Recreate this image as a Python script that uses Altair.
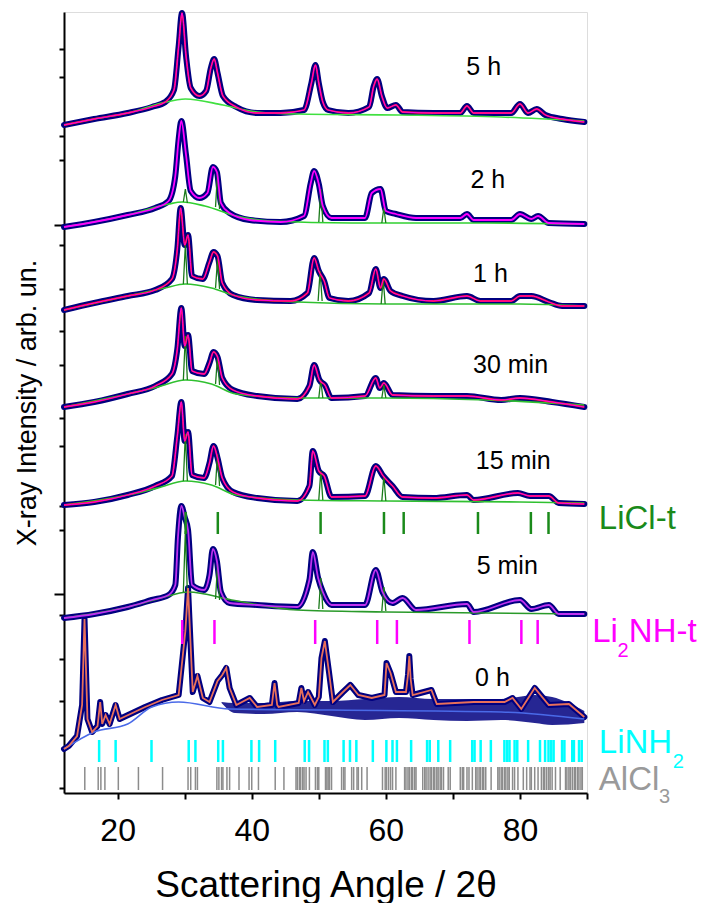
import math
import altair as alt
import pandas as pd

# ---------------- data (2theta in degrees, intensity in arb. un., log-stacked) -------------
patterns = ["5 h", "2 h", "1 h", "30 min", "15 min", "5 min", "0 h"]

x_5h = [12.0,16.5,21.5,25.1,27.1,28.4,29.1,29.6,30.2,30.9,32.2,33.2,33.9,34.4,34.9,35.7,37.7,40.8,44.3,47.8,48.9,49.5,50.0,50.6,51.4,54.4,57.5,58.2,58.7,59.4,60.2,61.5,62.5,67.1,71.1,72.1,73.1,78.7,80.0,81.2,82.5,83.8,86.3,89.6]
y_5h = [654,660,666,672,677,689,733,766,723,691,683,688,711,720,706,683,672,666,666,669,696,714,696,677,669,666,672,693,700,683,671,674,667,666,666,673,666,666,675,666,670,664,660,657]

x_2h = [12.0,16.5,21.5,25.6,27.6,28.6,29.1,29.5,30.2,30.9,32.2,33.4,34.2,34.8,35.4,36.7,39.7,44.3,47.8,48.8,49.3,50.0,50.6,51.9,56.9,57.9,59.2,60.0,61.5,64.5,71.1,72.1,73.1,78.7,80.0,81.7,82.7,84.3,89.6]
y_2h = [552,557,564,571,578,603,640,658,624,588,581,586,612,607,576,566,559,557,563,596,608,595,573,561,561,586,590,568,565,561,561,565,559,559,565,560,563,556,555]

x_1h = [12.0,16.5,21.5,25.6,28.1,28.9,29.4,30.0,30.5,31.1,32.7,33.7,34.3,34.9,35.6,37.2,40.8,45.8,48.3,49.3,50.0,50.8,51.6,54.4,57.5,58.5,59.2,59.7,60.7,62.5,67.1,72.1,74.1,78.7,80.0,81.7,84.3,86.3,89.6]
y_1h = [469,476,483,489,500,530,571,534,544,503,500,517,527,523,496,484,479,478,486,521,508,498,481,478,486,510,491,500,488,483,478,483,478,478,483,483,477,473,473]

x_30m = [12.0,16.5,21.5,25.6,28.1,28.9,29.5,30.0,30.5,31.1,32.9,33.7,34.3,34.9,35.6,37.2,40.8,46.8,48.6,49.3,50.1,50.9,51.9,56.9,58.5,59.1,59.7,61.0,67.1,72.1,77.2,80.0,84.8,89.6]
y_30m = [372,377,385,393,405,430,471,433,444,408,405,416,427,422,401,389,383,380,393,414,399,394,381,383,401,391,396,384,383,383,379,381,377,372]

x_15m = [12.0,16.5,21.5,25.6,28.1,28.9,29.5,30.0,30.5,31.1,32.9,33.7,34.3,34.9,35.6,37.2,40.8,46.8,48.6,49.1,50.0,50.8,51.9,56.9,58.5,59.6,61.0,62.5,67.1,72.1,73.1,79.7,81.5,84.3,85.8,89.6]
y_15m = [274,277,284,293,303,343,377,338,347,304,301,316,333,321,301,287,281,278,293,328,308,303,282,283,313,303,293,282,281,284,279,286,283,283,276,275]

x_5m = [12.0,16.5,21.5,25.1,27.6,28.6,29.0,29.5,30.0,30.5,31.1,32.9,33.7,34.2,34.8,35.4,36.7,40.8,46.8,48.6,49.1,49.9,50.6,51.9,56.9,58.5,59.5,61.0,62.5,64.5,72.1,73.1,80.0,81.7,84.3,85.8,89.6]
y_5m = [161,165,172,179,184,194,242,273,262,249,194,189,204,230,218,187,176,174,172,199,227,201,187,174,174,209,187,176,181,169,175,167,179,170,174,165,165]

x_0h = [12.0,12.7,13.95,14.7,15.06,15.5,16.2,17.0,17.4,17.7,18.2,18.8,19.7,20.3,24.1,26.6,29.1,30.1,30.5,31.2,31.9,32.7,33.7,34.9,35.6,36.2,36.7,37.7,39.7,40.8,43.0,43.4,43.8,44.0,47.0,47.4,47.8,48.4,49.4,50.0,50.4,50.9,51.5,52.1,53.6,54.7,55.9,57.9,59.8,60.1,60.7,61.5,63.0,63.3,63.5,63.7,64.0,66.8,67.6,73.1,77.7,78.9,80.2,82.2,84.3,87.3,89.6]
y_0h = [30,33,43,74,160,60,47,53,77,55,64,55,74,60,72,79,84,148,191,87,103,81,77,98,104,111,91,74,81,72,74,96,74,72,76,91,78,87,74,82,121,138,108,77,87,94,84,81,84,116,106,87,87,104,123,100,84,89,75,77,77,81,70,91,74,75,62]

# lower edge of the scattered 0 h points (noise band)
band_x = [35.5,37.5,41.8,46.8,51.9,56.9,62.0,67.1,72.1,77.2,82.2,84.8,89.6]
band_lo = [76,66,65,67,63,59,61,59,58,59,56,54,56]
band_hi = [77,76,76,78,78,80,82,80,80,80,84,82,68]

# backgrounds
bx_5h = [12,16.5,21.5,26.6,30.1,35.7,40.8,46.8,62.0,77.2,89.6]
by_5h = [654,660,666,676,680,674,667,665,664,662,658]
bx_2h = [12,21.5,27.6,29.6,33.0,37.7,42.8,55,75,89.6]
by_2h = [552,564,575,577,573,563,558,556,556,555]
bx_1h = [12,21.5,27.0,30.1,34.0,37.7,46.8,60,80,89.6]
by_1h = [469,483,491,495,491,483,477,475,475,473]
bx_30m = [12,21.5,26.0,30.1,34.0,37.7,46.8,60,75,89.6]
by_30m = [372,385,392,399,395,385,381,381,379,374]
bx_15m = [12,21.5,26.0,30.1,34.0,37.7,46.8,60,80,89.6]
by_15m = [274,284,291,298,294,284,279,278,277,276]
bx_5m = [12,21.5,26.0,30.6,37.0,46.8,60,89.6]
by_5m = [161,172,180,187,179,169,167,165]
bx_0h = [12,16.5,21.5,25.1,29.1,36.7,51.9,77.2,89.6]
by_0h = [30,47,55,72,77,70,69,67,60]

# LiCl-t component peaks (explicit profile points, one triplet per reflection)
cx_2h = [29.8,30.1,30.4, 34.6,34.9,35.2, 50.0,50.3,50.6, 59.4,59.7,60.0]
cy_2h = [577,590,576, 572,607,570, 557,590,557, 556,571,556]
cx_1h = [29.8,30.1,30.4, 34.6,34.9,35.2, 49.9,50.2,50.5, 59.3,59.6,59.9]
cy_1h = [495,534,495, 491,520,490, 478,508,478, 475,500,475]
cx_30m = [29.8,30.1,30.4, 34.6,34.9,35.2, 50.0,50.3,50.6, 59.4,59.7,60.0]
cy_30m = [399,443,399, 395,423,394, 381,399,381, 381,394,381]
cx_15m = [29.8,30.1,30.4, 34.6,34.9,35.2, 50.0,50.3,50.6, 59.4,59.7,60.0]
cy_15m = [298,345,298, 294,325,293, 279,308,279, 278,303,278]
cx_5m = [29.8,30.1,30.4, 34.6,34.9,35.2, 50.0,50.3,50.6, 59.4,59.7,60.0]
cy_5m = [187,248,186, 180,215,179, 170,201,170, 168,192,168]

# reflection positions (2theta)
licl_t = [30.14,34.94,50.27,59.72,62.66,73.74,81.63,84.26]
li2nh_t = [29.63,34.44,49.46,58.71,61.65,72.47,80.21,82.64]
linh2 = [17.24,19.7,25.05,30.6,31.6,35.0,35.7,39.95,41.1,43.5,47.9,48.55,50.85,51.35,53.7,54.65,55.6,58.06,60.08,60.99,61.65,63.77,66.15,66.55,67.82,69.59,72.88,73.23,74.14,75.66,77.68,78.09,78.44,79.2,79.6,81.22,82.99,83.75,84.26,84.66,85.02,86.28,86.63,87.8,88.05,88.81,89.21]
alcl3 = [15.1,17.1,17.5,18.1,20.1,23.1,26.7,30.5,30.9,31.6,31.9,34.8,35.1,35.5,35.7,36.3,36.7,38.1,39.6,40.0,41.0,43.5,44.8,46.6,46.8,47.1,47.3,47.6,47.8,48.1,48.6,49.5,49.8,50.0,51.0,51.2,51.4,51.6,51.9,53.4,53.7,53.9,54.9,55.2,55.7,55.9,56.4,57.2,59.5,59.9,60.1,60.4,60.7,61.0,61.5,62.8,63.0,63.3,63.5,63.8,64.0,64.3,64.5,65.5,65.8,66.0,66.3,66.6,66.8,67.1,67.3,67.6,67.8,68.1,68.3,68.6,69.3,69.6,71.1,71.4,71.6,72.1,72.4,72.9,73.4,73.6,73.9,74.1,74.4,74.6,74.9,75.7,76.7,76.9,77.2,77.4,77.7,77.9,78.2,78.4,78.9,79.2,79.7,80.5,81.0,81.5,81.7,82.2,82.7,83.2,83.5,83.7,84.0,84.3,84.5,84.8,85.3,86.0,86.8,87.0,87.3,87.5,87.8,88.1,88.3,88.6,88.8,89.1,89.3]

# time labels (position in 2theta / intensity units)
time_lab_x = [74.6, 75.2, 75.6, 78.6, 79.0, 78.1, 75.9]
time_lab_y = [712, 599, 505, 414, 318, 213, 101]

# ---------------- build tables ----------------
obs_x = [x_5h, x_2h, x_1h, x_30m, x_15m, x_5m, x_0h]
obs_y = [y_5h, y_2h, y_1h, y_30m, y_15m, y_5m, y_0h]
bg_x = [bx_5h, bx_2h, bx_1h, bx_30m, bx_15m, bx_5m, bx_0h]
bg_y = [by_5h, by_2h, by_1h, by_30m, by_15m, by_5m, by_0h]

calc_col = {"5 h": "#ff1030", "2 h": "#ff00ff", "1 h": "#ff1010", "30 min": "#ff1030",
            "15 min": "#ff1030", "5 min": "#c030f0", "0 h": "#e8705a"}
bg_col = {"5 h": "#40e040", "2 h": "#30d030", "1 h": "#30c030", "30 min": "#30c030",
          "15 min": "#30c030", "5 min": "#2a9a2a", "0 h": "#4a6ae8"}
mag_over = {"5 h", "1 h", "30 min", "15 min"}
interp = {p: ("linear" if p == "0 h" else "monotone") for p in patterns}

rows = []
for p, xs, ys in zip(patterns, obs_x, obs_y):
    assert len(xs) == len(ys), p
    for i, (a, b) in enumerate(zip(xs, ys)):
        rows.append({"pattern": p, "x": a, "y": b, "i": i})
obs = pd.DataFrame(rows)

brows = []
for p, xs, ys in zip(patterns, bg_x, bg_y):
    assert len(xs) == len(ys), p
    for i, (a, b) in enumerate(zip(xs, ys)):
        brows.append({"pattern": p, "x": a, "y": b, "i": i, "col": bg_col[p]})
bg = pd.DataFrame(brows)

crows = []
for p, xs, ys in zip(["2 h", "1 h", "30 min", "15 min", "5 min"],
                     [cx_2h, cx_1h, cx_30m, cx_15m, cx_5m],
                     [cy_2h, cy_1h, cy_30m, cy_15m, cy_5m]):
    assert len(xs) == len(ys), p
    for i, (a, b) in enumerate(zip(xs, ys)):
        crows.append({"pk": f"{p}-{i // 3}", "x": a, "y": b, "i": i})
comp = pd.DataFrame(crows)

band = pd.DataFrame({"x": band_x, "lo": band_lo, "hi": band_hi})
labels = pd.DataFrame({"x": time_lab_x, "y": time_lab_y, "t": patterns})

# log-decade tick marks of the stacked intensity axis
DEC = 92.4
YMIN, YMAX = -14, 767
yticks = []
for k in range(-1, 9):
    for m in range(1, 10):
        v = DEC * (k + math.log10(m))
        if YMIN <= v <= YMAX:
            yticks.append(round(v, 2))

FONT = "Liberation Sans"
NAVY = "#000080"

xenc = alt.X("x:Q", scale=alt.Scale(domain=[12, 90], nice=False, zero=False),
             axis=alt.Axis(title="Scattering Angle / 2θ", values=[20, 30, 40, 50, 60, 70, 80, 90],
                           labelExpr="(datum.value % 20 == 0 && datum.value < 90) ? datum.label : ''",
                           grid=False, tickSize=6, tickWidth=2, tickColor="black",
                           domainColor="black", domainWidth=2, labelFontSize=32, labelFont=FONT,
                           labelColor="black", labelPadding=16, titleFontSize=37, titleFont=FONT,
                           titleFontWeight="normal", titleColor="black", titlePadding=21))
yenc = alt.Y("y:Q", scale=alt.Scale(domain=[YMIN, YMAX], nice=False, zero=False),
             axis=alt.Axis(title="X-ray Intensity / arb. un.", values=yticks, labels=False, grid=False,
                           tickSize={"condition": {"test": f"abs(datum.value/{DEC} - round(datum.value/{DEC})) < 0.01",
                                                   "value": 10}, "value": 5},
                           tickWidth=2, tickColor="black", domainColor="black", domainWidth=2,
                           titleFontSize=27, titleFont=FONT, titleFontWeight="normal",
                           titleColor="black", titlePadding=12))

base_obs = alt.Chart(obs)
layers = []
for p in patterns:
    sub = base_obs.transform_filter(alt.datum.pattern == p)
    enc_x = xenc if p == patterns[0] else "x:Q"
    enc_y = yenc if p == patterns[0] else "y:Q"
    layers.append(sub.mark_line(color=NAVY, strokeWidth=6, interpolate=interp[p],
                                strokeCap="round", strokeJoin="round").encode(
        x=enc_x, y=enc_y, order="i:Q"))

noise = alt.Chart(band).mark_area(color=NAVY, opacity=0.85, interpolate="monotone").encode(
    x="x:Q", y="lo:Q", y2="hi:Q")
layers.append(noise)

background = alt.Chart(bg).mark_line(strokeWidth=1.6, interpolate="monotone").encode(
    x="x:Q", y="y:Q", detail="pattern:N", order="i:Q", color=alt.Color("col:N", scale=None))
layers.append(background)

components = alt.Chart(comp).mark_line(color="#1a7a1a", strokeWidth=1.3).encode(
    x="x:Q", y="y:Q", detail="pk:N", order="i:Q")
layers.append(components)

for p in patterns:
    sub = base_obs.transform_filter(alt.datum.pattern == p)
    layers.append(sub.mark_line(color=calc_col[p], strokeWidth=1.8, interpolate=interp[p]).encode(
        x="x:Q", y="y:Q", order="i:Q"))
    if p in mag_over:
        layers.append(sub.mark_line(color="#ff00ff", strokeWidth=0.9, interpolate=interp[p]).encode(
            x="x:Q", y="y:Q", order="i:Q"))

def ticks(xs, lo, hi, color, w):
    return alt.Chart(pd.DataFrame({"x": xs})).mark_rule(color=color, strokeWidth=w).encode(
        x="x:Q", y=alt.datum(lo), y2=alt.datum(hi))

layers += [ticks(licl_t, 245, 267, "#1a8a1a", 2.5),
           ticks(li2nh_t, 135, 159, "#ff00ff", 2.5),
           ticks(linh2, 17, 39, "#00ffff", 2.5),
           ticks(alcl3, -11, 12, "#8c8c8c", 1.5)]

time_text = alt.Chart(labels).mark_text(fontSize=25, font=FONT, color="black",
                                        align="center", baseline="middle").encode(
    x="x:Q", y="y:Q", text="t:N")
layers.append(time_text)

# phase names with subscripts
ph_main = pd.DataFrame({"x": [91.76, 90.78, 96.24, 91.76, 91.76],
                        "y": [250, 137, 137, 26, -11],
                        "t": ["LiCl-t", "Li", "NH-t", "LiNH", "AlCl"],
                        "c": ["#1a8a1a", "#ff00ff", "#ff00ff", "#00ffff", "#9a9a9a"]})
ph_sub = pd.DataFrame({"x": [94.55, 102.8, 100.75], "y": [122, 11, -24], "t": ["2", "2", "3"],
                       "c": ["#ff00ff", "#00ffff", "#9a9a9a"]})
layers.append(alt.Chart(ph_main).mark_text(fontSize=33, font=FONT, align="left",
                                           baseline="alphabetic").encode(
    x="x:Q", y="y:Q", text="t:N", color=alt.Color("c:N", scale=None)))
layers.append(alt.Chart(ph_sub).mark_text(fontSize=20, font=FONT, align="left",
                                          baseline="alphabetic").encode(
    x="x:Q", y="y:Q", text="t:N", color=alt.Color("c:N", scale=None)))

chart = alt.layer(*layers).properties(
    width=523, height=781,
    padding={"left": 5, "top": 1, "right": 0, "bottom": 0},
).configure_view(stroke="black", strokeWidth=2).configure(background="white")

chart.save("out.html", embed_options={"renderer": "svg", "actions": False})
